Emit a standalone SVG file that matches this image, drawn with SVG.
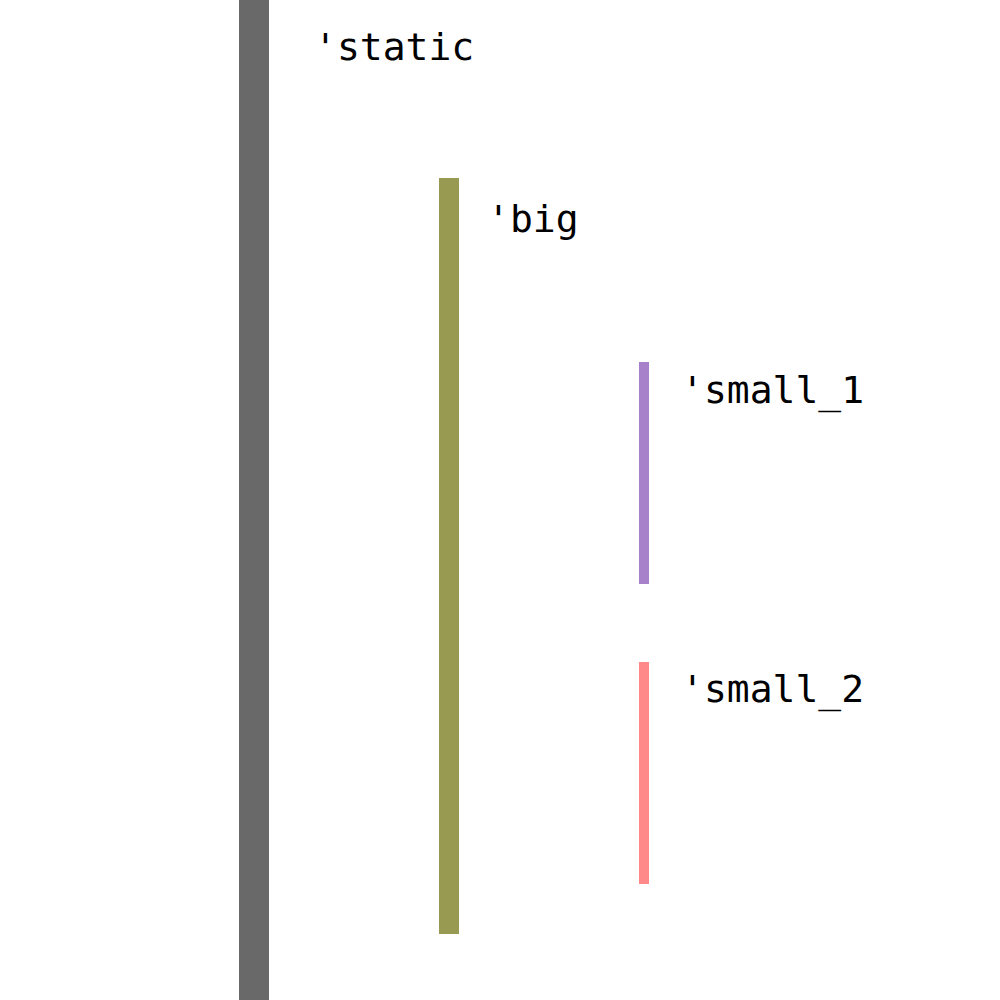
<svg xmlns="http://www.w3.org/2000/svg" width="1000" height="1000" viewBox="0 0 1000 1000">
<style>
text { font-family: "DejaVu Sans Mono", "Liberation Mono", monospace; font-size: 38px; fill: #000; }
</style>
<rect width="1000" height="1000" fill="#fff"/>
<g id="static"><rect x="239" y="0" width="30" height="1000" fill="#696969"/><text x="314" y="60">'static</text></g>
<g id="big"><rect x="439" y="178" width="20" height="756" fill="#999a52"/><text x="487" y="232">'big</text></g>
<g id="small_1"><rect x="639" y="362" width="10" height="222" fill="#a782cb"/><text x="681" y="403">'small_1</text></g>
<g id="small_2"><rect x="639" y="662" width="10" height="222" fill="#ff8888"/><text x="681" y="702">'small_2</text></g>
<g id="connectors"></g>
</svg>
